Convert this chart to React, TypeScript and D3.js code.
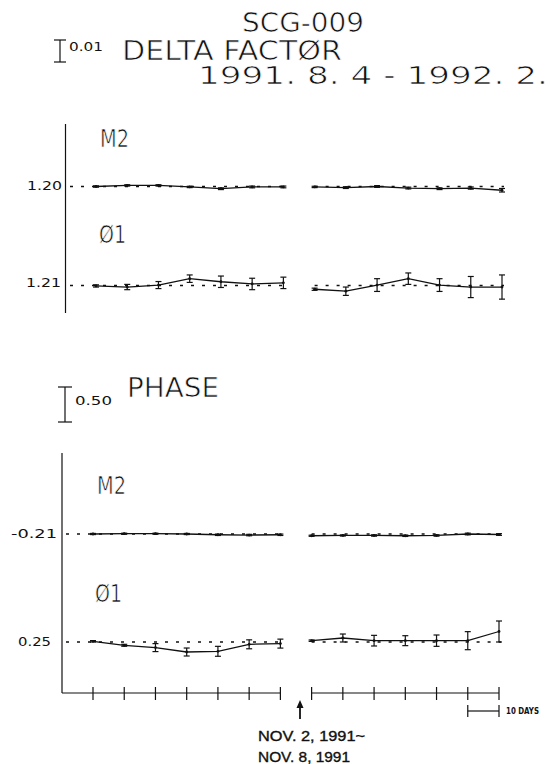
import React, { useRef, useEffect } from "react";
import * as d3 from "d3";

// epoch index: 0-6 before the Nov. 2-8 break, 7-13 after it; one epoch = 10 days
const epochs = [0, 1, 2, 3, 4, 5, 6, 7, 8, 9, 10, 11, 12, 13];
const segments = [[0, 1, 2, 3, 4, 5, 6], [7, 8, 9, 10, 11, 12, 13]];

// DELTA FACTOR
const deltaM2 = [1.2, 1.2005, 1.2005, 1.1998, 1.199, 1.1998, 1.1998, 1.1998, 1.1995, 1.2, 1.1993, 1.199, 1.1993, 1.1983];
const deltaM2Err = [0.0003, 0.0003, 0.0003, 0.0003, 0.0004, 0.0004, 0.0004, 0.0003, 0.0004, 0.0004, 0.0004, 0.0004, 0.0005, 0.0008];
const deltaO1 = [1.2098, 1.2093, 1.2102, 1.2131, 1.2117, 1.2107, 1.2112, 1.2083, 1.2074, 1.2102, 1.2131, 1.2102, 1.2093, 1.2093];
const deltaO1Err = [0.0005, 0.0012, 0.0016, 0.0017, 0.0026, 0.0026, 0.0026, 0.0005, 0.0019, 0.0029, 0.0026, 0.0029, 0.0048, 0.0055];

// PHASE
const phaseM2 = [-0.21, -0.206, -0.206, -0.21, -0.221, -0.225, -0.221, -0.235, -0.231, -0.231, -0.235, -0.231, -0.21, -0.217];
const phaseM2Err = [0.008, 0.008, 0.008, 0.008, 0.01, 0.01, 0.01, 0.008, 0.008, 0.01, 0.01, 0.01, 0.012, 0.012];
const phaseO1 = [0.26, 0.203, 0.17, 0.107, 0.117, 0.217, 0.227, 0.269, 0.307, 0.269, 0.269, 0.269, 0.269, 0.4];
const phaseO1Err = [0.01, 0.014, 0.057, 0.057, 0.071, 0.064, 0.064, 0.01, 0.057, 0.076, 0.071, 0.081, 0.129, 0.15];

const deltaRefs = [1.2, 1.21];
const deltaRefLabels = ["1.20", "1.21"];
const phaseRefs = [-0.21, 0.25];
const phaseRefLabels = ["-0.21", "0.25"];
const deltaBar = 0.01;
const phaseBar = 0.5;

const W = 550;
const H = 764;
const FONT = "'DejaVu Sans', sans-serif";
const INK = "#111";

const App = () => {
  const svgRef = useRef(null);

  useEffect(() => {
    const svg = d3.select(svgRef.current);
    svg.selectAll("*").remove();
    svg.append("rect").attr("width", W).attr("height", H).attr("fill", "#fff");

    const txt = (s, x, y, size, o: any = {}) => {
      const t = svg.append("text")
        .attr("x", x).attr("y", y)
        .attr("font-size", size)
        .attr("font-family", o.family || FONT)
        .attr("font-weight", o.weight || "normal")
        .attr("text-anchor", o.anchor || "start")
        .attr("fill", INK)
        .style("white-space", "pre")
        .text(s);
      if (o.len) t.attr("textLength", o.len).attr("lengthAdjust", "spacingAndGlyphs");
      // thin the glyphs a little to get closer to the pen-plotter lettering
      if (o.thin) t.attr("stroke", "#fff").attr("stroke-width", o.thin);
      if (o.bold) t.attr("stroke", INK).attr("stroke-width", o.bold);
      return t;
    };

    const xLow = d3.scaleLinear().domain([0, 13]).range([93, 499]);
    const xUp = d3.scaleLinear().domain([0, 13]).range([96, 502]);

    const line = (x1, y1, x2, y2, w = 1.2) =>
      svg.append("line").attr("x1", x1).attr("y1", y1).attr("x2", x2).attr("y2", y2)
        .attr("stroke", INK).attr("stroke-width", w);

    const drawSeries = (x, y, vals, errs, ref, dashFrom) => {
      segments.forEach((seg, si) => {
        const y0 = y(ref);
        line(si === 0 ? dashFrom : x(seg[0]), y0, x(seg[seg.length - 1]) + 2, y0, 1.3)
          .attr("stroke-dasharray", "3,8");
        const path = d3.line().x(i => x(i)).y(i => y(vals[i]));
        svg.append("path").datum(seg).attr("d", path)
          .attr("fill", "none").attr("stroke", INK).attr("stroke-width", 1.3);
        seg.forEach(i => {
          const top = y(vals[i] + errs[i]);
          const bot = y(vals[i] - errs[i]);
          line(x(i), top, x(i), bot, 1.2);
          line(x(i) - 3, top, x(i) + 3, top, 1.2);
          line(x(i) - 3, bot, x(i) + 3, bot, 1.2);
          svg.append("circle").attr("cx", x(i)).attr("cy", y(vals[i])).attr("r", 1.4).attr("fill", INK);
        });
      });
    };

    // ---- headings
    txt("SCG-009", 242, 32, 27, { len: 122, thin: 0.7 });
    txt("DELTA FACTØR", 122, 60, 27, { len: 220, thin: 0.7 });
    txt("1991. 8. 4 - 1992. 2.", 198, 84, 25, { len: 350, thin: 0.7 });

    // scale bars
    const dBar = d3.scaleLinear().domain([0, deltaBar]).range([62, 40]);
    line(60, dBar(0), 60, dBar(deltaBar));
    line(54, dBar(0), 66, dBar(0));
    line(54, dBar(deltaBar), 66, dBar(deltaBar));
    txt("0.01", 69, 51, 13, { len: 34 });

    const pBar = d3.scaleLinear().domain([0, phaseBar]).range([422, 387]);
    line(65, pBar(0), 65, pBar(phaseBar));
    line(58, pBar(0), 72, pBar(0));
    line(58, pBar(phaseBar), 72, pBar(phaseBar));
    txt("0.50", 75, 405, 13, { len: 37 });
    txt("PHASE", 127, 397, 27, { len: 92, thin: 0.7 });

    // ---- upper panel (delta factor)
    line(65.5, 124, 65.5, 313);
    txt("M2", 100, 147, 25, { len: 29, thin: 0.7 });
    txt("Ø1", 99, 243, 25, { len: 27, thin: 0.7 });
    const yDM2 = d3.scaleLinear().domain([deltaRefs[0], deltaRefs[0] + 0.01]).range([186.5, 164.5]);
    const yDO1 = d3.scaleLinear().domain([deltaRefs[1], deltaRefs[1] + 0.01]).range([285.5, 263.5]);
    txt(deltaRefLabels[0], 62, 190, 12, { anchor: "end", len: 35 });
    txt(deltaRefLabels[1], 61, 287, 12, { anchor: "end", len: 35 });
    drawSeries(xUp, yDM2, deltaM2, deltaM2Err, deltaRefs[0], 70);
    drawSeries(xUp, yDO1, deltaO1, deltaO1Err, deltaRefs[1], 70);

    // ---- lower panel (phase)
    line(62, 453, 62, 693);
    txt("M2", 97, 494, 25, { len: 29, thin: 0.7 });
    txt("Ø1", 95, 602, 25, { len: 27, thin: 0.7 });
    const yPM2 = d3.scaleLinear().domain([phaseRefs[0], phaseRefs[0] + 0.5]).range([534, 499]);
    const yPO1 = d3.scaleLinear().domain([phaseRefs[1], phaseRefs[1] + 0.5]).range([642, 607]);
    txt(phaseRefLabels[0], 57, 538, 12, { anchor: "end", len: 46 });
    txt(phaseRefLabels[1], 51, 646, 12, { anchor: "end", len: 33 });
    drawSeries(xLow, yPM2, phaseM2, phaseM2Err, phaseRefs[0], 66);
    drawSeries(xLow, yPO1, phaseO1, phaseO1Err, phaseRefs[1], 66);

    // time axis
    const axisY = 693;
    line(62, axisY, xLow(6), axisY);
    line(xLow(7), axisY, xLow(13), axisY);
    epochs.forEach(i => line(xLow(i), axisY - 6, xLow(i), axisY + 7));

    // 10 days bar
    const barY = 711;
    line(xLow(12), barY, xLow(13), barY);
    line(xLow(12), barY - 6, xLow(12), barY + 6);
    line(xLow(13), barY - 6, xLow(13), barY + 6);
    txt("10 DAYS", xLow(13) + 7, barY + 3, 8, { weight: "bold", len: 33 });

    // break marker
    const ax = (xLow(6) + xLow(7)) / 2 + 4;
    line(ax, 719, ax, 707, 1.8);
    svg.append("path").attr("d", `M${ax - 3.5},${708} L${ax},${700} L${ax + 3.5},${708} Z`).attr("fill", INK);
    txt("NOV. 2, 1991~", 258, 741, 14, { family: "'Liberation Sans', Arial, sans-serif", len: 107, bold: 0.35 });
    txt("NOV. 8, 1991", 258, 762, 14, { family: "'Liberation Sans', Arial, sans-serif", len: 92, bold: 0.35 });
  }, []);

  return (
    <svg ref={svgRef} width={W} height={H}
      style={{ position: "absolute", left: 0, top: 0, display: "block" }} />
  );
};

export default App;
